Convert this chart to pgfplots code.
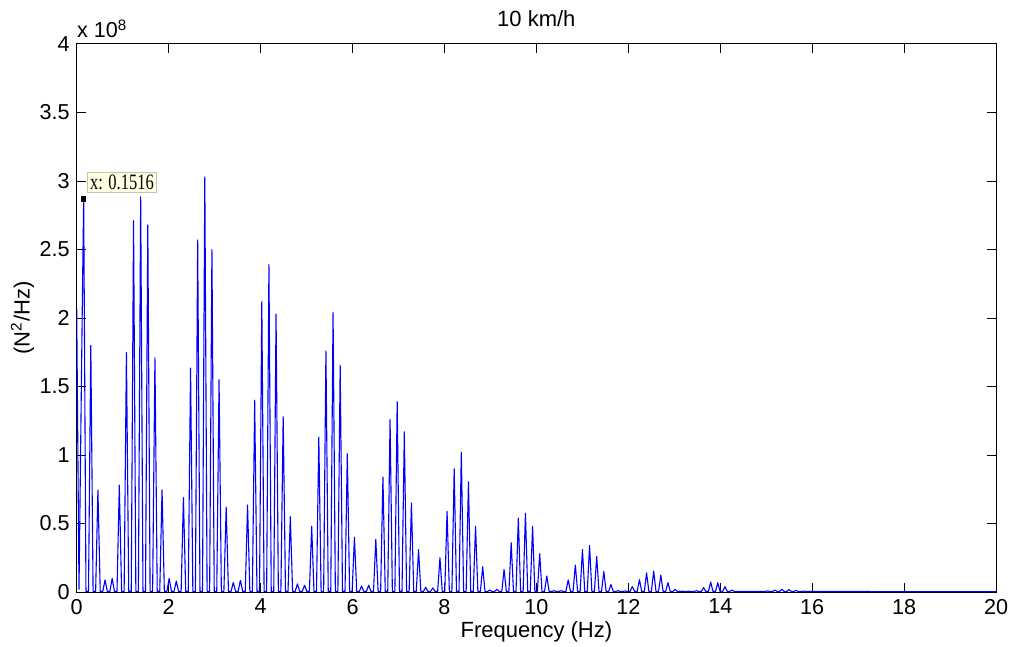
\documentclass[border=0pt]{standalone}
\usepackage{fontspec}
\setmainfont{Liberation Sans}
\newfontfamily\tipfont[FakeStretch=0.75]{Liberation Serif}
\usepackage{pgfplots}
\pgfplotsset{compat=1.18}
\begin{document}
\begin{tikzpicture}
\useasboundingbox (-38.35pt,-27pt) rectangle (468.1pt,296pt);
\begin{axis}[
  at={(0,0)}, anchor=south west,
  scale only axis, width=459.65pt, height=274pt,
  xmin=0, xmax=20, ymin=0, ymax=4,
  xtick={0,2,4,6,8,10,12,14,16,18,20},
  ytick={0,0.5,1,1.5,2,2.5,3,3.5,4},
  tick align=inside, tick pos=both,
  major tick length=4.5pt,
  axis line style={line width=0.5pt, black},
  every tick/.style={black, line width=0.5pt},
  tick label style={font=\fontsize{10.8}{12}\selectfont},
  /pgf/number format/assume math mode=true,
  xlabel={Frequency (Hz)},
  xlabel style={at={(axis description cs:0.5,-0.054)}, anchor=north, inner sep=0pt, font=\fontsize{11}{13}\selectfont},
  ylabel={(N\textsuperscript{2}/Hz)},
  ylabel style={at={(axis description cs:-0.059,0.5)}, anchor=center, inner sep=0pt, font=\fontsize{11}{13}\selectfont},
]
\addplot[color={rgb,1:red,0;green,0;blue,1}, line width=0.55pt, line join=round, mark=none] coordinates {
(0,2.06) (0.05,0.02) (0.125,2.18) (0.1516,2.87) (0.2016,0.004)
(0.2566,0.004) (0.3066,1.80) (0.3566,0.004)
(0.4116,0.004) (0.4616,0.745) (0.5116,0.004)
(0.5666,0.004) (0.6166,0.088) (0.6666,0.004)
(0.7216,0.004) (0.7716,0.10) (0.8216,0.004)
(0.8766,0.004) (0.9266,0.78) (0.9766,0.004)
(1.0316,0.004) (1.0816,1.75) (1.1316,0.004)
(1.1866,0.004) (1.2366,2.71) (1.2866,0.004)
(1.3416,0.004) (1.3916,2.885) (1.4416,0.004)
(1.4966,0.004) (1.5466,2.68) (1.5966,0.004)
(1.6516,0.004) (1.7016,1.71) (1.7516,0.004)
(1.8066,0.004) (1.8566,0.745) (1.9066,0.004)
(1.9616,0.004) (2.0116,0.10) (2.0616,0.004)
(2.1166,0.004) (2.1666,0.08) (2.2166,0.004)
(2.2716,0.004) (2.3216,0.69) (2.3716,0.004)
(2.4266,0.004) (2.4766,1.635) (2.5266,0.004)
(2.5816,0.004) (2.6316,2.57) (2.6816,0.004)
(2.7366,0.004) (2.7866,3.03) (2.8366,0.004)
(2.8916,0.004) (2.9416,2.50) (2.9916,0.004)
(3.0466,0.004) (3.0966,1.55) (3.1466,0.004)
(3.2016,0.004) (3.2516,0.62) (3.3016,0.004)
(3.3566,0.004) (3.4066,0.07) (3.4566,0.004)
(3.5116,0.004) (3.5616,0.085) (3.6116,0.004)
(3.6666,0.004) (3.7166,0.635) (3.7666,0.004)
(3.8216,0.004) (3.8716,1.40) (3.9216,0.004)
(3.9766,0.004) (4.0266,2.12) (4.0766,0.004)
(4.1316,0.004) (4.1816,2.39) (4.2316,0.004)
(4.2866,0.004) (4.3366,2.03) (4.3866,0.004)
(4.4416,0.004) (4.4916,1.28) (4.5416,0.004)
(4.5966,0.004) (4.6466,0.55) (4.6966,0.004)
(4.7516,0.004) (4.8016,0.06) (4.8516,0.004)
(4.9066,0.004) (4.9566,0.05) (5.0066,0.004)
(5.0616,0.004) (5.1116,0.48) (5.1616,0.004)
(5.2166,0.004) (5.2666,1.13) (5.3166,0.004)
(5.3716,0.004) (5.4216,1.76) (5.4716,0.004)
(5.5266,0.004) (5.5766,2.04) (5.6266,0.004)
(5.6816,0.004) (5.7316,1.655) (5.7816,0.004)
(5.8366,0.004) (5.8866,1.01) (5.9366,0.004)
(5.9916,0.004) (6.0416,0.40) (6.0916,0.004)
(6.1466,0.004) (6.1966,0.044) (6.2466,0.004)
(6.3016,0.004) (6.3516,0.05) (6.4016,0.004)
(6.4566,0.004) (6.5066,0.385) (6.5566,0.004)
(6.6116,0.004) (6.6616,0.84) (6.7116,0.004)
(6.7666,0.004) (6.8166,1.26) (6.8666,0.004)
(6.9216,0.004) (6.9716,1.39) (7.0216,0.004)
(7.0766,0.004) (7.1266,1.17) (7.1766,0.004)
(7.2316,0.004) (7.2816,0.65) (7.3316,0.004)
(7.3866,0.004) (7.4366,0.31) (7.4866,0.004)
(7.5416,0.004) (7.5916,0.035) (7.6416,0.004)
(7.6966,0.004) (7.7466,0.03) (7.7966,0.004)
(7.8516,0.004) (7.9016,0.25) (7.9516,0.004)
(8.0066,0.004) (8.0566,0.59) (8.1066,0.004)
(8.1616,0.004) (8.2116,0.90) (8.2616,0.004)
(8.3166,0.004) (8.3666,1.02) (8.4166,0.004)
(8.4716,0.004) (8.5216,0.805) (8.5716,0.004)
(8.6266,0.004) (8.6766,0.48) (8.7266,0.004)
(8.7816,0.004) (8.8316,0.185) (8.8816,0.004)
(8.9366,0.004) (8.9866,0.015) (9.0366,0.004)
(9.0916,0.004) (9.1416,0.02) (9.1916,0.004)
(9.2466,0.004) (9.2966,0.165) (9.3466,0.004)
(9.4016,0.004) (9.4516,0.36) (9.5016,0.004)
(9.5566,0.004) (9.6066,0.54) (9.6566,0.004)
(9.7116,0.004) (9.7616,0.575) (9.8116,0.004)
(9.8666,0.004) (9.9166,0.48) (9.9666,0.004)
(10.0216,0.004) (10.0716,0.28) (10.1216,0.004)
(10.1766,0.004) (10.2266,0.117) (10.2766,0.004)
(10.3316,0.004) (10.3816,0.01) (10.4316,0.004)
(10.4866,0.004) (10.5366,0.01) (10.5866,0.004)
(10.6416,0.004) (10.6916,0.088) (10.7416,0.004)
(10.7966,0.004) (10.8466,0.197) (10.8966,0.004)
(10.9516,0.004) (11.0016,0.31) (11.0516,0.004)
(11.1066,0.004) (11.1566,0.34) (11.2066,0.004)
(11.2616,0.004) (11.3116,0.26) (11.3616,0.004)
(11.4166,0.004) (11.4666,0.15) (11.5166,0.004)
(11.5716,0.004) (11.6216,0.055) (11.6716,0.004)
(11.7266,0.004) (11.7766,0.01) (11.8266,0.004)
(11.8816,0.004) (11.9316,0.008) (11.9816,0.004)
(12.0366,0.004) (12.0866,0.04) (12.1366,0.004)
(12.1916,0.004) (12.2416,0.09) (12.2916,0.004)
(12.3466,0.004) (12.3966,0.14) (12.4466,0.004)
(12.5016,0.004) (12.5516,0.153) (12.6016,0.004)
(12.6566,0.004) (12.7066,0.124) (12.7566,0.004)
(12.8116,0.004) (12.8616,0.068) (12.9116,0.004)
(12.9666,0.004) (13.0166,0.02) (13.0666,0.004)
(13.1216,0.004) (13.1716,0.006) (13.2216,0.004)
(13.2766,0.004) (13.3266,0.006) (13.3766,0.004)
(13.4316,0.004) (13.4816,0.01) (13.5316,0.004)
(13.5866,0.004) (13.6366,0.032) (13.6866,0.004)
(13.7416,0.004) (13.7916,0.073) (13.8416,0.004)
(13.8966,0.004) (13.9466,0.068) (13.9966,0.004)
(14.0516,0.004) (14.1016,0.04) (14.1516,0.004)
(14.2066,0.004) (14.2566,0.015) (14.3066,0.004)
(14.9816,0.004) (15.0316,0.008) (15.0816,0.004)
(15.1366,0.004) (15.1866,0.015) (15.2366,0.004)
(15.2916,0.004) (15.3416,0.02) (15.3916,0.004)
(15.4466,0.004) (15.4966,0.018) (15.5466,0.004)
(15.6016,0.004) (15.6516,0.012) (15.7016,0.004)
(15.7566,0.004) (15.8066,0.007) (15.8566,0.004)
(20,0.003)
};
\addplot[only marks, mark=square*, mark size=1.1pt, black] coordinates {(0.1516,2.87)};
\node[anchor=west, inner sep=1.5pt, fill={rgb,255:red,255;green,255;blue,228}, draw={rgb,255:red,200;green,195;blue,170}, line width=0.4pt, font=\tipfont\fontsize{11}{12}\selectfont] at (axis cs:0.218,2.99) {x: 0.1516};
\end{axis}
\node[anchor=base west, inner sep=0pt, font=\fontsize{10.8}{12}\selectfont] at (0pt,277pt) {x 10\textsuperscript{8}};
\node[anchor=base, inner sep=0pt, font=\fontsize{11}{13}\selectfont] at (229.8pt,282.5pt) {10 km/h};
\end{tikzpicture}
\end{document}
